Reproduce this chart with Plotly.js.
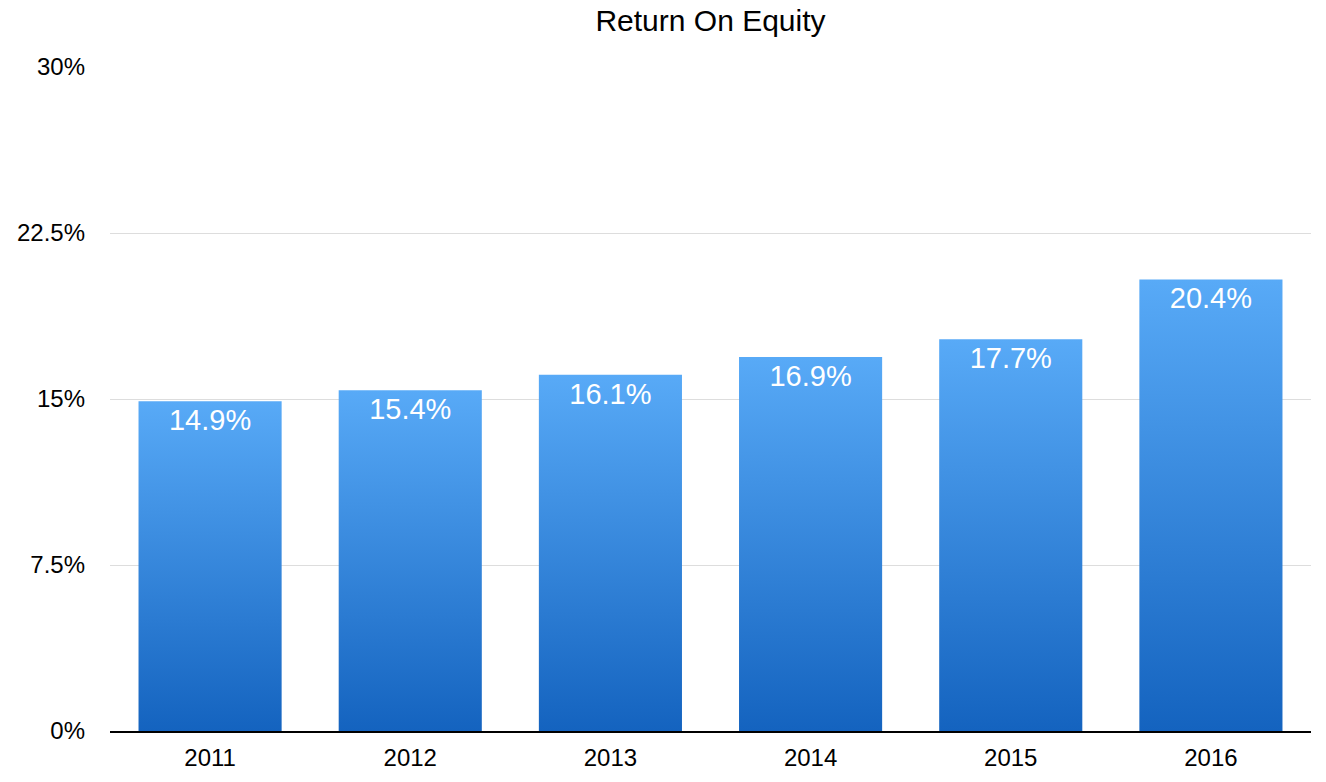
<!DOCTYPE html>
<html>
<head>
<meta charset="utf-8">
<script src="https://cdn.plot.ly/plotly-3.0.1.min.js"></script>
<style>
  html, body { margin: 0; padding: 0; background: #fff; }
  #chart { width: 1326px; height: 782px; }
</style>
</head>
<body>
<div id="chart"></div>
<script>
// Data
var years = ['2011', '2012', '2013', '2014', '2015', '2016'];
var roe = [14.9, 15.4, 16.1, 16.9, 17.7, 20.4];
var yTicks = [0, 7.5, 15, 22.5, 30];
var yTickText = ['0%', '7.5%', '15%', '22.5%', '30%'];

var font = 'Liberation Sans, Arial, Helvetica, sans-serif';

var trace = {
    x: years, y: roe,
    type: 'bar',
    marker: { color: '#3a8ae0', line: { width: 0 } },
    texttemplate: '%{y:.1f}%',
    textposition: 'inside',
    insidetextanchor: 'end',
    textangle: 0,
    insidetextfont: { family: font, size: 29, color: '#ffffff' },
    hoverinfo: 'none',
};

var layout = {
    width: 1326, height: 782,
    paper_bgcolor: '#ffffff',
    plot_bgcolor: '#ffffff',
    title: { text: 'Return On Equity', font: { family: font, size: 30, color: '#000' },
             x: 0.5, xref: 'paper', xanchor: 'center', y: 0.974, yref: 'container', yanchor: 'middle' },
    margin: { l: 110, r: 15, t: 67, b: 51 },
    bargap: 0.285,
    showlegend: false,
    font: { family: font, color: '#000' },
    xaxis: { showline: true, linecolor: '#000', linewidth: 2, showgrid: false,
             tickfont: { size: 24, color: '#000' }, ticks: '', ticklabelstandoff: 4 },
    yaxis: { range: [0, 30], tickvals: yTicks, ticktext: yTickText, showgrid: true,
             gridcolor: '#dddddd', gridwidth: 1, zeroline: false, showline: false,
             tickfont: { size: 24, color: '#000' }, ticklabelstandoff: 24 },
};

Plotly.newPlot('chart', [trace], layout, { staticPlot: true }).then(function(gd) {
    // vertical gradient per bar
    var svg = gd.querySelector('svg.main-svg');
    var ns = 'http://www.w3.org/2000/svg';
    var defs = svg.querySelector('defs') || svg.insertBefore(document.createElementNS(ns, 'defs'), svg.firstChild);
    var grad = document.createElementNS(ns, 'linearGradient');
    grad.setAttribute('id', 'roeGrad');
    grad.setAttribute('x1', '0'); grad.setAttribute('y1', '0');
    grad.setAttribute('x2', '0'); grad.setAttribute('y2', '1');
    [['0', '#58aaf7'], ['1', '#1463bf']].forEach(function(s) {
        var stop = document.createElementNS(ns, 'stop');
        stop.setAttribute('offset', s[0]);
        stop.setAttribute('stop-color', s[1]);
        grad.appendChild(stop);
    });
    defs.appendChild(grad);
    gd.querySelectorAll('.trace.bars .point path').forEach(function(p) {
        p.style.fill = 'url(#roeGrad)';
    });
});
</script>
</body>
</html>
